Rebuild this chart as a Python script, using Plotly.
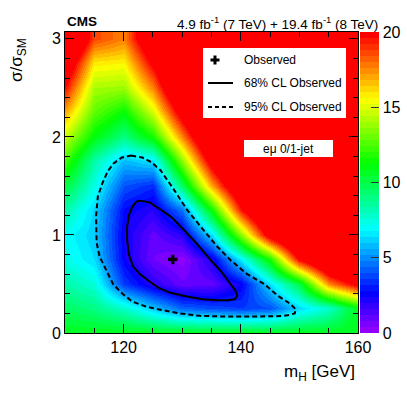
import colorsys
import plotly.graph_objects as go

# ---------------- data ----------------
mh_grid = [110, 115, 120, 125, 130, 135, 140, 145, 150, 155, 160]
mu_grid = [0.0, 0.25, 0.5, 0.75, 1.0, 1.25, 1.5, 1.75, 2.0, 2.25, 2.5, 2.75, 3.0]

# -2 Delta lnL, one row per mu value (columns follow mh_grid)
row_mu000 = [10.8, 10.8, 10.8, 10.8, 10.8, 10.8, 10.8, 10.8, 10.8, 10.8, 10.8]
row_mu025 = [9.6, 9.0, 7.8, 6.0, 4.3, 3.9, 3.6, 4.0, 6.3, 7.8, 11.0]
row_mu050 = [8.4, 7.6, 3.6, 2.0, 0.9, 1.0, 2.5, 6.5, 10.0, 17.5, 20.5]
row_mu075 = [7.4, 6.4, 2.5, 0.8, 0.2, 2.3, 6.8, 11.6, 20.0, 24.0, 26.0]
row_mu100 = [7.1, 6.1, 2.4, 1.0, 2.0, 6.5, 13.5, 21.0, 25.0, 27.0, 28.0]
row_mu125 = [8.4, 6.3, 2.7, 2.0, 4.6, 11.4, 19.5, 25.0, 27.0, 29.0, 30.0]
row_mu150 = [10.2, 7.4, 4.0, 3.3, 9.5, 17.0, 23.0, 27.0, 29.0, 31.0, 32.0]
row_mu175 = [12.3, 8.4, 5.8, 6.5, 13.5, 21.0, 26.0, 29.0, 31.0, 33.0, 34.0]
row_mu200 = [14.5, 11.0, 9.0, 11.5, 17.5, 24.0, 28.0, 31.0, 33.0, 35.0, 36.0]
row_mu225 = [17.0, 12.8, 11.2, 14.8, 21.0, 26.0, 30.0, 33.0, 35.0, 37.0, 38.0]
row_mu250 = [19.6, 14.0, 13.8, 17.6, 24.0, 28.0, 32.0, 35.0, 37.0, 39.0, 40.0]
row_mu275 = [22.0, 15.8, 15.6, 20.2, 26.0, 30.0, 34.0, 37.0, 39.0, 41.0, 42.0]
row_mu300 = [25.0, 18.6, 17.6, 22.5, 28.0, 32.0, 36.0, 39.0, 41.0, 43.0, 44.0]

nll_grid = [row_mu000, row_mu025, row_mu050, row_mu075, row_mu100, row_mu125,
            row_mu150, row_mu175, row_mu200, row_mu225, row_mu250, row_mu275,
            row_mu300]

# best fit point
best_mh = [128.4]
best_mu = [0.75]

# 68% CL contour
cl68_mh = [122.9, 124.5, 126.3, 128.2, 130.3, 132.5, 134.9, 136.6, 138.0, 139.1,
           139.4, 139.0, 137.8, 136.0, 133.5, 131.0, 128.0, 126.0, 124.3, 122.8,
           121.6, 120.9, 120.6, 120.6, 120.9, 121.5, 122.2, 122.9]
cl68_mu = [1.35, 1.33, 1.26, 1.18, 1.05, 0.91, 0.74, 0.63, 0.52, 0.43,
           0.38, 0.345, 0.335, 0.335, 0.345, 0.37, 0.41, 0.46, 0.53, 0.60,
           0.68, 0.80, 0.95, 1.08, 1.20, 1.29, 1.34, 1.35]

# 95% CL contour
cl95_mh = [121.3, 123.2, 124.8, 126.3, 128.5, 130.9, 133.5, 136.0, 138.3, 141.1,
           144.0, 146.3, 148.4, 149.4, 149.2, 148.0, 146.0, 142.0, 137.0, 133.0,
           129.5, 126.5, 123.8, 121.5, 119.8, 118.2, 117.0, 115.9, 115.4, 115.3,
           115.3, 115.6, 116.4, 117.3, 118.3, 119.7, 121.3]
cl95_mu = [1.81, 1.79, 1.74, 1.66, 1.47, 1.25, 1.06, 0.88, 0.74, 0.60,
           0.50, 0.38, 0.30, 0.24, 0.20, 0.18, 0.17, 0.168, 0.168, 0.175,
           0.20, 0.235, 0.27, 0.32, 0.40, 0.50, 0.64, 0.78, 0.92, 1.05,
           1.19, 1.39, 1.53, 1.65, 1.73, 1.79, 1.81]

cbar_ticks = [0, 5, 10, 15, 20]

# ---------------- styling ----------------
# ROOT "pretty" palette: 50 HLS colours, hue 280 -> 0
ncol = 50
palette = []
for i in range(ncol):
    hue = 280.0 - (i + 1) * (280.0 / ncol)
    r, g, b = colorsys.hls_to_rgb(hue / 360.0, 0.5, 1.0)
    c = "rgb(%d,%d,%d)" % (round(r * 255), round(g * 255), round(b * 255))
    palette.append([i / ncol, c])
    palette.append([(i + 1) / ncol, c])

FONT = "Liberation Sans, Arial, sans-serif"
W, H = 407, 394
L, R, T, B = 65, 358, 32, 333


def px(xp):
    return (xp - L) / (R - L)


def py(yp):
    return (B - yp) / (B - T)


fig = go.Figure()

fig.add_trace(go.Heatmap(
    x=mh_grid, y=mu_grid, z=nll_grid,
    zmin=0, zmax=20, zsmooth="best",
    colorscale=palette, hoverinfo="skip",
    colorbar=dict(
        thickness=19, thicknessmode="pixels",
        len=1, lenmode="fraction",
        x=px(360), xanchor="left", xpad=0,
        y=0.5, yanchor="middle", ypad=0,
        tickvals=cbar_ticks, ticks="inside", ticklen=8,
        tickcolor="#333", tickwidth=1,
        tickfont=dict(family=FONT, size=16, color="black"),
        outlinewidth=0,
    ),
))

fig.add_trace(go.Scatter(
    x=cl95_mh, y=cl95_mu, mode="lines",
    line=dict(color="black", width=2, dash="5px,3px"),
    hoverinfo="skip", showlegend=False))
fig.add_trace(go.Scatter(
    x=cl68_mh, y=cl68_mu, mode="lines",
    line=dict(color="black", width=2),
    hoverinfo="skip", showlegend=False))
fig.add_trace(go.Scatter(
    x=best_mh, y=best_mu, mode="markers",
    marker=dict(symbol="cross", size=8, color="black", line=dict(width=0)),
    hoverinfo="skip", showlegend=False))

axis_common = dict(
    showline=True, linecolor="black", linewidth=1, mirror="allticks",
    ticks="inside", ticklen=9, tickcolor="black", tickwidth=1,
    showgrid=False, zeroline=False,
    tickfont=dict(family=FONT, size=16, color="black"),
)

fig.update_xaxes(range=[110, 160], tick0=120, dtick=20,
                 minor=dict(dtick=5, ticks="inside", ticklen=5, tickcolor="black"),
                 **axis_common)
fig.update_yaxes(range=[0, 3.07], tick0=0, dtick=1,
                 minor=dict(dtick=0.2, ticks="inside", ticklen=5, tickcolor="black"),
                 **axis_common)

shapes = []
annotations = []

# legend box
shapes.append(dict(type="rect", xref="paper", yref="paper",
                   x0=px(203), x1=px(346), y0=py(118), y1=py(48),
                   fillcolor="white", line=dict(width=0)))
# cross glyph in legend
cx, cy = 215, 60
shapes.append(dict(type="rect", xref="paper", yref="paper",
                   x0=px(cx - 4.5), x1=px(cx + 4.5), y0=py(cy + 1.5), y1=py(cy - 1.5),
                   fillcolor="black", line=dict(width=0)))
shapes.append(dict(type="rect", xref="paper", yref="paper",
                   x0=px(cx - 1.5), x1=px(cx + 1.5), y0=py(cy + 4.5), y1=py(cy - 4.5),
                   fillcolor="black", line=dict(width=0)))
shapes.append(dict(type="line", xref="paper", yref="paper",
                   x0=px(208), x1=px(233), y0=py(83), y1=py(83),
                   line=dict(color="black", width=2)))
shapes.append(dict(type="line", xref="paper", yref="paper",
                   x0=px(208), x1=px(233), y0=py(107), y1=py(107),
                   line=dict(color="black", width=2, dash="4px,3px")))
for txt, yy in [("Observed", 60), ("68% CL Observed", 83), ("95% CL Observed", 107)]:
    annotations.append(dict(text=txt, xref="paper", yref="paper",
                            x=px(242), y=py(yy), xanchor="left", yanchor="middle",
                            showarrow=False,
                            font=dict(family=FONT, size=12, color="black")))

# channel label box
shapes.append(dict(type="rect", xref="paper", yref="paper",
                   x0=px(244), x1=px(333), y0=py(157), y1=py(140),
                   fillcolor="white", line=dict(width=0)))
annotations.append(dict(text="eμ 0/1-jet", xref="paper", yref="paper",
                        x=px(288.5), y=py(148.5), xanchor="center", yanchor="middle",
                        showarrow=False, font=dict(family=FONT, size=12, color="black")))

# header
annotations.append(dict(text="<b>CMS</b>", xref="paper", yref="paper",
                        x=px(65), y=py(21.5), xanchor="left", yanchor="middle",
                        showarrow=False, font=dict(family=FONT, size=13.5, color="black")))
annotations.append(dict(text="4.9 fb<sup>-1</sup> (7 TeV) + 19.4 fb<sup>-1</sup> (8 TeV)",
                        xref="paper", yref="paper",
                        x=px(380), y=py(22.5), xanchor="right", yanchor="middle",
                        showarrow=False, font=dict(family=FONT, size=13.5, color="black")))

# axis titles
annotations.append(dict(text="m<sub>H</sub> [GeV]", xref="paper", yref="paper",
                        x=px(357), y=py(373), xanchor="right", yanchor="middle",
                        showarrow=False, font=dict(family=FONT, size=17, color="black")))
annotations.append(dict(text="σ/σ<sub>SM</sub>", xref="paper", yref="paper",
                        x=px(18), y=py(60), xanchor="center", yanchor="middle",
                        textangle=-90, showarrow=False,
                        font=dict(family=FONT, size=17, color="black")))

fig.update_layout(
    width=W, height=H,
    margin=dict(l=L, r=W - R, t=T, b=H - B, autoexpand=False),
    paper_bgcolor="white", plot_bgcolor="white",
    showlegend=False,
    shapes=shapes, annotations=annotations,
    font=dict(family=FONT, color="black"),
)

fig.write_html(
    "out.html",
    config={"displayModeBar": False, "staticPlot": True},
    post_script="document.body.style.margin='0';document.body.style.padding='0';",
)
